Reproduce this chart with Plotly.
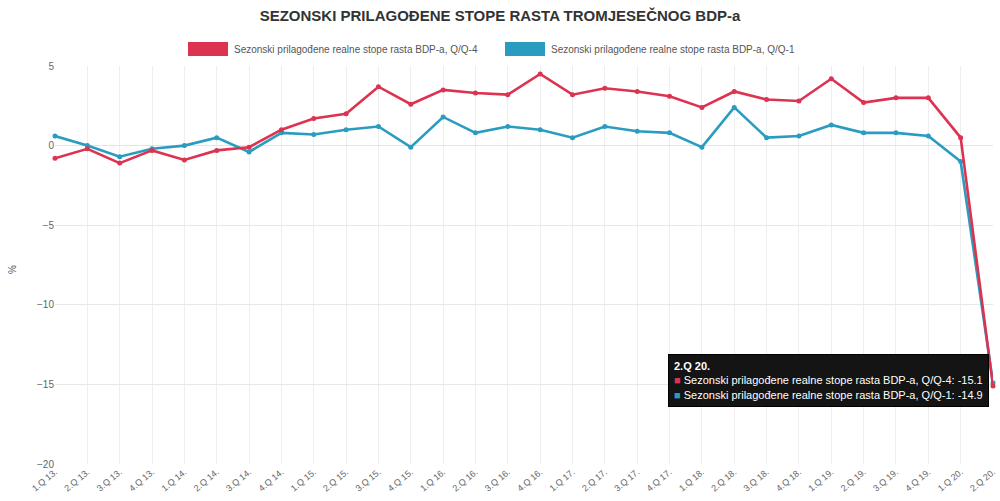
import plotly.graph_objects as go

title_text = "SEZONSKI PRILAGOĐENE STOPE RASTA TROMJESEČNOG BDP-a"
quarters = ["1.Q 13.", "2.Q 13.", "3.Q 13.", "4.Q 13.",
            "1.Q 14.", "2.Q 14.", "3.Q 14.", "4.Q 14.",
            "1.Q 15.", "2.Q 15.", "3.Q 15.", "4.Q 15.",
            "1.Q 16.", "2.Q 16.", "3.Q 16.", "4.Q 16.",
            "1.Q 17.", "2.Q 17.", "3.Q 17.", "4.Q 17.",
            "1.Q 18.", "2.Q 18.", "3.Q 18.", "4.Q 18.",
            "1.Q 19.", "2.Q 19.", "3.Q 19.", "4.Q 19.",
            "1.Q 20.", "2.Q 20."]
name_q4 = "Sezonski prilagođene realne stope rasta BDP-a, Q/Q-4"
name_q1 = "Sezonski prilagođene realne stope rasta BDP-a, Q/Q-1"
q_q4 = [-0.8, -0.2, -1.1, -0.3, -0.9, -0.3, -0.1, 1.0,
        1.7, 2.0, 3.7, 2.6, 3.5, 3.3, 3.2, 4.5,
        3.2, 3.6, 3.4, 3.1, 2.4, 3.4, 2.9, 2.8,
        4.2, 2.7, 3.0, 3.0, 0.5, -15.1]
q_q1 = [0.6, 0.0, -0.7, -0.2, 0.0, 0.5, -0.4, 0.8,
        0.7, 1.0, 1.2, -0.1, 1.8, 0.8, 1.2, 1.0,
        0.5, 1.2, 0.9, 0.8, -0.1, 2.4, 0.5, 0.6,
        1.3, 0.8, 0.8, 0.6, -1.0, -14.9]
y_ticks = [-20, -15, -10, -5, 0, 5]

RED = "#dc3350"
BLUE = "#2a9cc0"
x_idx = list(range(len(quarters)))

fig = go.Figure()
fig.add_trace(go.Scatter(x=x_idx, y=q_q1, mode="lines+markers", name=name_q1,
                         line=dict(color=BLUE, width=2.6),
                         marker=dict(size=5, color=BLUE), cliponaxis=False,
                         showlegend=False))
fig.add_trace(go.Scatter(x=x_idx, y=q_q4, mode="lines+markers", name=name_q4,
                         line=dict(color=RED, width=2.6),
                         marker=dict(size=5, color=RED), cliponaxis=False,
                         showlegend=False))

# Legend drawn as swatches + labels
legend_items = [(RED, name_q4, 0.188), (BLUE, name_q1, 0.505)]
shapes = []
annotations = []
for col, nm, x0 in legend_items:
    shapes.append(dict(type="rect", xref="paper", yref="paper",
                       x0=(x0 * 1000 - 55) / 938, x1=(x0 * 1000 + 40 - 55) / 938,
                       y0=(464 - 56) / 398, y1=(464 - 42) / 398,
                       fillcolor=col, line=dict(width=0)))
    annotations.append(dict(xref="paper", yref="paper",
                            x=(x0 * 1000 + 44 - 55) / 938, y=(464 - 49) / 398,
                            xanchor="left", yanchor="middle", showarrow=False,
                            text=nm, font=dict(size=10, color="#555")))

# Tooltip-like box
last = len(quarters) - 1
tip = ("<b>" + quarters[last] + "</b><br>"
       + "<span style='color:" + RED + "'>■</span> " + name_q4 + ": " + str(q_q4[last]) + "<br>"
       + "<span style='color:" + BLUE + "'>■</span> " + name_q1 + ": " + str(q_q1[last]))
annotations.append(dict(xref="paper", yref="paper", x=(989 - 55) / 938, y=(464 - 354) / 398,
                        xanchor="right", yanchor="top", showarrow=False, align="left",
                        text=tip, font=dict(size=11, color="white", family="Liberation Sans"),
                        bgcolor="rgba(0,0,0,0.92)", bordercolor="black", borderpad=5))

# y-axis title
annotations.append(dict(xref="paper", yref="paper", x=(12 - 55) / 938, y=(464 - 270) / 398,
                        xanchor="center", yanchor="middle", showarrow=False, textangle=-90,
                        text="%", font=dict(size=10, color="#555")))

fig.update_layout(
    width=1000, height=501,
    paper_bgcolor="white", plot_bgcolor="white",
    font=dict(family="Liberation Sans, Arial, sans-serif", size=10, color="#666"),
    title=dict(text="<b>" + title_text + "</b>", x=0.5, xanchor="center",
               y=1 - 16 / 501, yanchor="middle",
               font=dict(size=15, color="#333")),
    margin=dict(l=55, r=7, t=66, b=37),
    showlegend=False,
    shapes=shapes, annotations=annotations,
    xaxis=dict(range=[0, last], tickmode="array", tickvals=x_idx, ticktext=quarters,
               tickangle=-40, showgrid=True, gridcolor="#eeeeee", zeroline=False,
               showline=False, ticks="", automargin=False,
               tickfont=dict(size=9, color="#666")),
    yaxis=dict(range=[-20, 5], tickmode="array", tickvals=y_ticks,
               showgrid=True, gridcolor="#e8e8e8", zeroline=True, zerolinecolor="#dde6ea",
               zerolinewidth=1, showline=False, ticks="", automargin=False,
               tickfont=dict(size=10, color="#666")),
)

fig.write_html("out.html", config={"displayModeBar": False},
               post_script="document.body.style.margin='0';")
